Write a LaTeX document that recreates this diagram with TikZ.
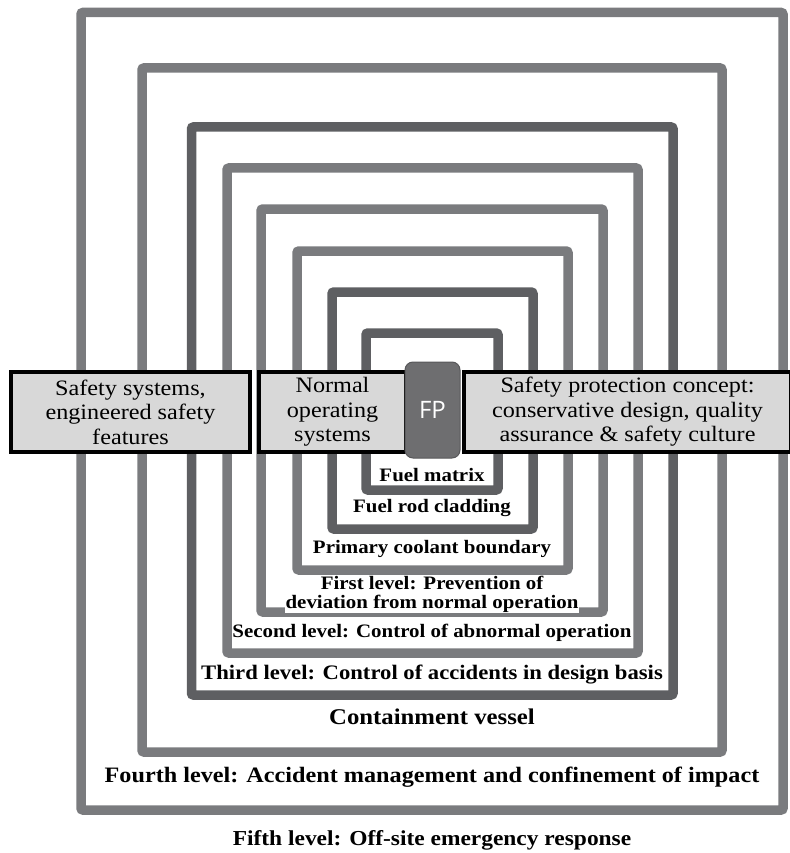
\documentclass[tikz,border=0pt]{standalone}
\usepackage{fontspec}
\setmainfont{Liberation Serif}[FakeStretch=1.1]
\newfontfamily\fpfont{Open Sans}
\definecolor{ringlight}{RGB}{122,123,126}
\definecolor{ringdark}{RGB}{94,95,98}
\definecolor{boxfill}{RGB}{216,216,216}
\definecolor{fpfill}{RGB}{110,110,112}
\begin{document}
\begin{tikzpicture}[x=1pt,y=-1pt,
  ring/.style={line width=9.5pt,rounded corners=2pt},
  lbl/.style={fill=white,inner sep=0.5pt,align=center,font=\fontsize{#1}{19}\selectfont\bfseries},
  lbl/.default=19,
  sbox/.style={draw=black,line width=4pt,fill=boxfill,minimum height=80pt,inner sep=0pt,align=center,font=\fontsize{22}{24.5}\selectfont}]
\useasboundingbox (0,0) rectangle (789,853);
% nested barriers, outermost first
\foreach \xa/\ya/\xb/\yb/\col in {81/12.5/783/810/ringlight, 142/68/722/752/ringlight, 191.5/127/673/695/ringdark, 227/168/638/653/ringlight, 261/209/603/612/ringlight, 297/251/568/570/ringlight, 332/292/533/529/ringdark, 366/333/498/490/ringdark}
  \draw[ring,draw=\col] (\xa,\ya) rectangle (\xb,\yb);
% cross band
\node[sbox,minimum width=239pt] (sss) at (130.5,412) {Safety systems,\\ engineered safety\\ features};
\node[sbox,minimum width=147pt] (nos) at (332.5,412) {Normal\\ operating\\ systems};
\node[sbox,minimum width=327pt] (spc) at (627.5,412) {Safety protection concept:\\ conservative design, quality\\ assurance \& safety culture};
\node[draw=fpfill!80!black,line width=1pt,fill=fpfill,rounded corners=8pt,minimum width=55pt,minimum height=96pt,text=white,font=\fpfont\fontsize{24}{24}\selectfont] (fp) at (432.5,410) {FP};
% barrier and level labels
\node[lbl] (fuel) at (432,475) {Fuel matrix};
\node[lbl] (clad) at (432,508) {Fuel rod cladding};
\node[lbl] (pcb) at (432,549) {Primary coolant boundary};
\node[lbl] (lvl1) at (432,594) {First level: Prevention of\\ deviation from normal operation};
\node[lbl] (lvl2) at (432,633) {Second level: Control of abnormal operation};
\node[lbl=20.6] (lvl3) at (432,675) {Third level: Control of accidents in design basis};
\node[lbl=22.5] (cv) at (432,717) {Containment vessel};
\node[lbl=22] (lvl4) at (432,777) {Fourth level: Accident management and confinement of impact};
\node[lbl=21.3] (lvl5) at (432,840) {Fifth level: Off-site emergency response};
\end{tikzpicture}
\end{document}
